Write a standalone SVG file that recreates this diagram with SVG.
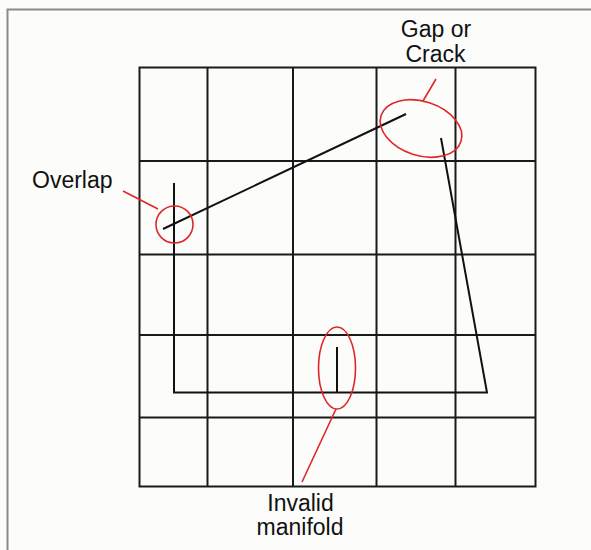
<svg xmlns="http://www.w3.org/2000/svg" width="591" height="550" viewBox="0 0 591 550">
  <style>
    .grid { stroke: #1a1a1a; stroke-width: 2; fill: none; }
    .edge { stroke: #111; stroke-width: 2; fill: none; }
    .red { stroke: #e0262a; stroke-width: 1.6; fill: none; }
    .lbl { font-family: "Liberation Sans", Arial, sans-serif; font-size: 23px; fill: #111; }
  </style>
  <rect x="0" y="0" width="591" height="550" fill="#fcfcfb"/>
  <path d="M7.5 550 V9.5 H591" stroke="#8a8a8a" stroke-width="2" fill="none"/>
  <g id="grid">
    <rect class="grid" x="139.5" y="67.5" width="396" height="419"/>
    <path class="grid" d="M207.5 67.5V486.5M293 67.5V486.5M376.5 67.5V486.5M455.5 67.5V486.5M139.5 161H535.5M139.5 254.5H535.5M139.5 335H535.5M139.5 417.5H535.5"/>
  </g>
  <g id="connectors">
    <path class="edge" d="M174 183 V392.5 H487 L441 138"/>
    <path class="edge" d="M163 229 L406 114"/>
    <path class="edge" d="M337 347 V392.5"/>
    <path class="red" d="M123 191 L158 209"/>
    <path class="red" d="M423 101 L436 79"/>
    <path class="red" d="M336 409 L302 482"/>
  </g>
  <g id="overlap">
    <circle class="red" cx="174.5" cy="224.5" r="18.5"/>
    <text class="lbl" x="32" y="188">Overlap</text>
  </g>
  <g id="gap">
    <ellipse class="red" cx="421" cy="128.5" rx="42" ry="27" transform="rotate(18 421 128.5)"/>
    <text class="lbl" x="436" y="37" text-anchor="middle">Gap or</text>
    <text class="lbl" x="435.5" y="62" text-anchor="middle">Crack</text>
  </g>
  <g id="manifold">
    <ellipse class="red" cx="337" cy="368" rx="18.5" ry="41"/>
    <text class="lbl" x="300.5" y="511" text-anchor="middle">Invalid</text>
    <text class="lbl" x="300" y="535" text-anchor="middle">manifold</text>
  </g>
</svg>
